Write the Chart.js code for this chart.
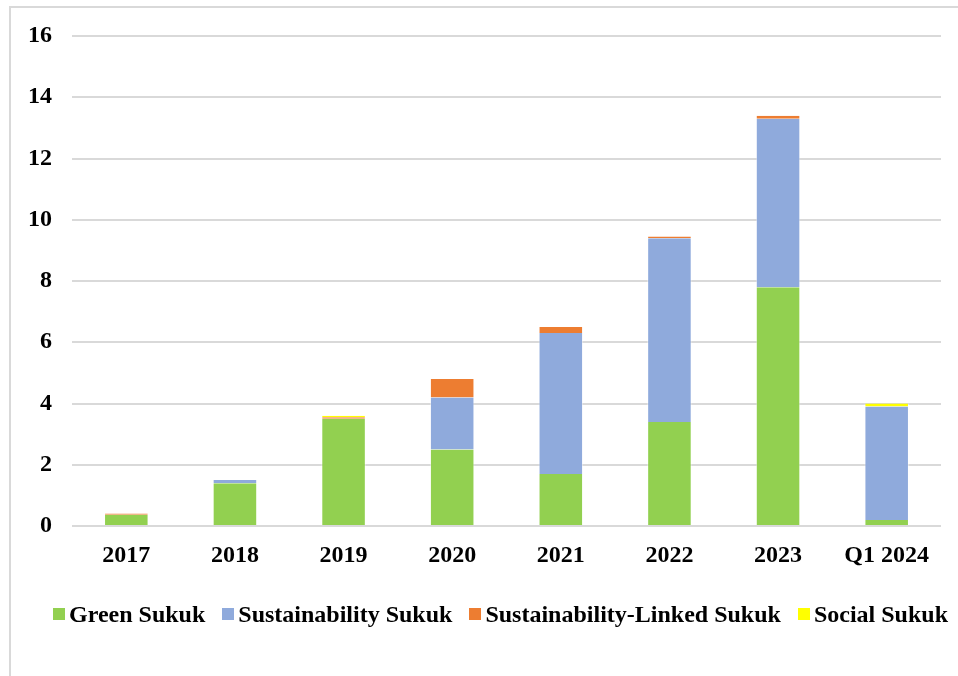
<!DOCTYPE html>
<html>
<head>
<meta charset="utf-8">
<script src="https://cdn.jsdelivr.net/npm/chart.js@4"></script>
<style>
  html, body { margin: 0; padding: 0; background: #fff; overflow: hidden; }
  #wrap { position: relative; width: 958px; height: 676px; }
  #frame { position: absolute; left: 9px; top: 6px; width: 1000px; height: 1000px;
           border-left: 2px solid #d9d9d9; border-top: 2px solid #d9d9d9; box-sizing: border-box; }
  #box { position: absolute; left: 0; top: 0; width: 958px; height: 676px; }
  #legend { position: absolute; left: 53px; top: 602px; display: flex; align-items: center;
            font: bold 24px "Liberation Serif", "Times New Roman", serif; color: #000; line-height: 24px; white-space: nowrap; }
  #legend .item { display: flex; align-items: center; margin-right: 17px; }
  #legend .sw { width: 12px; height: 12px; margin-right: 4px; }
</style>
</head>
<body>
<div id="wrap">
  <div id="frame"></div>
  <div id="box"><canvas id="chart"></canvas></div>
  <div id="legend"></div>
</div>
<script>
// Sukuk issuance by type (USD bn)
const categories = ["2017", "2018", "2019", "2020", "2021", "2022", "2023", "Q1 2024"];
const greenSukuk = [0.37, 1.4, 3.5, 2.5, 1.7, 3.4, 7.8, 0.2];
const sustainabilitySukuk = [0, 0.1, 0, 1.7, 4.6, 6.0, 5.5, 3.7];
const sustainabilityLinkedSukuk = [0.04, 0, 0.05, 0.6, 0.2, 0.05, 0.1, 0];
const socialSukuk = [0, 0, 0.05, 0, 0, 0, 0, 0.1];
const yTicks = [0, 2, 4, 6, 8, 10, 12, 14, 16];

const seriesNames = ["Green Sukuk", "Sustainability Sukuk", "Sustainability-Linked Sukuk", "Social Sukuk"];
const seriesColors = ["#92D050", "#8FAADC", "#ED7D31", "#FFFF00"];
const seriesValues = [greenSukuk, sustainabilitySukuk, sustainabilityLinkedSukuk, socialSukuk];

const FONT = "'Liberation Serif', 'Times New Roman', serif";

const chart = new Chart(document.getElementById("chart"), {
  type: "bar",
  data: {
    labels: categories,
    datasets: seriesNames.map((name, i) => ({
      label: name,
      data: seriesValues[i],
      backgroundColor: seriesColors[i],
      borderColor: "rgba(255,255,255,0.45)",
      borderWidth: { left: 1, right: 1, top: 0, bottom: 0 },
      borderSkipped: false,
      barPercentage: 0.41,
      categoryPercentage: 1.0
    }))
  },
  options: {
    responsive: true,
    maintainAspectRatio: false,
    animation: false,
    layout: { padding: { left: 0, right: 17, top: 36, bottom: 90 } },
    plugins: {
      legend: { display: false },
      tooltip: { enabled: false }
    },
    scales: {
      x: {
        stacked: true,
        grid: { display: false, drawTicks: false },
        border: { display: false },
        ticks: { color: "#000", padding: 15, font: { family: FONT, size: 24, weight: "bold" } },
        afterFit: s => { s.height = 60; }
      },
      y: {
        stacked: true,
        min: 0,
        max: 16,
        afterBuildTicks: s => { s.ticks = yTicks.map(v => ({ value: v })); },
        grid: { color: "#d9d9d9", lineWidth: 2, drawTicks: false },
        border: { display: false },
        ticks: { color: "#000", padding: 20, font: { family: FONT, size: 24, weight: "bold" } },
        afterFit: s => { s.width = 72; }
      }
    }
  }
});

// Legend built from the chart's datasets
const legendEl = document.getElementById("legend");
chart.data.datasets.forEach(ds => {
  const item = document.createElement("div");
  item.className = "item";
  const sw = document.createElement("span");
  sw.className = "sw";
  sw.style.background = ds.backgroundColor;
  const txt = document.createElement("span");
  txt.textContent = ds.label;
  item.appendChild(sw);
  item.appendChild(txt);
  legendEl.appendChild(item);
});
</script>
</body>
</html>
